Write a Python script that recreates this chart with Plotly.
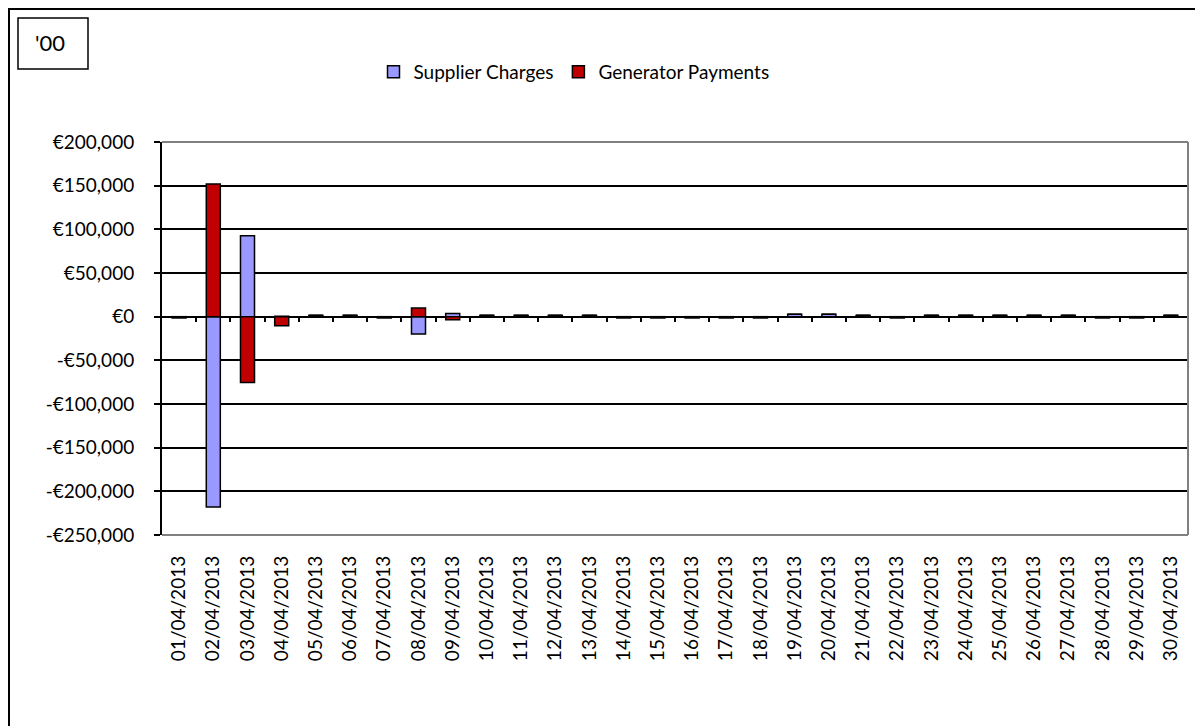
import plotly.graph_objects as go

dates = ["01/04/2013", "02/04/2013", "03/04/2013", "04/04/2013", "05/04/2013",
         "06/04/2013", "07/04/2013", "08/04/2013", "09/04/2013", "10/04/2013",
         "11/04/2013", "12/04/2013", "13/04/2013", "14/04/2013", "15/04/2013",
         "16/04/2013", "17/04/2013", "18/04/2013", "19/04/2013", "20/04/2013",
         "21/04/2013", "22/04/2013", "23/04/2013", "24/04/2013", "25/04/2013",
         "26/04/2013", "27/04/2013", "28/04/2013", "29/04/2013", "30/04/2013"]

supplier_charges = [-1500, -218000, 92700, 500, 1500, 1500, -1500, -19900, 3500, 1500,
                    1500, 1500, 1500, -1500, -1500, -1500, -1500, -1500, 2800, 2800,
                    1500, -1500, 1500, 1500, 1500, 1500, 1500, -1500, -1500, 1500]

generator_payments = [0, 152000, -75500, -10500, 0, 0, 0, 9800, -3500, 0,
                      0, 0, 0, 0, 0, 0, 0, 0, 0, 0,
                      0, 0, 0, 0, 0, 0, 0, 0, 0, 0]

y_ticks = [-250000, -200000, -150000, -100000, -50000, 0, 50000, 100000, 150000, 200000]
y_tick_text = ["-€250,000", "-€200,000", "-€150,000", "-€100,000", "-€50,000", "€0",
               "€50,000", "€100,000", "€150,000", "€200,000"]

boundary_ticks = [i + 0.5 for i in range(len(dates) - 1)]

FONT = "Lato, 'Liberation Sans', Arial, sans-serif"

# the page body adds an 8px offset; work in page pixels and convert
OFF = 8
W, H = 1203 - OFF, 726 - OFF
PL, PR, PT, PB = 162, 1188, 142, 535  # plot area in page pixels
L, R, T, B = PL - OFF, W - (PR - OFF), PT - OFF, H - (PB - OFF)
pw, ph = W - L - R, H - T - B

def px2x(px):
    return (px - OFF - L) / pw

def py2y(py):
    return (H - B - (py - OFF)) / ph

fig = go.Figure()
fig.add_trace(go.Bar(x=dates, y=supplier_charges, name="Supplier Charges",
                     marker=dict(color="#9999FF", line=dict(color="black", width=1.5))))
fig.add_trace(go.Bar(x=dates, y=generator_payments, name="Generator Payments",
                     marker=dict(color="#C00000", line=dict(color="black", width=1.5))))

gray = dict(color="#808080", width=2)
fig.update_layout(
    width=W, height=H,
    margin=dict(l=L, r=R, t=T, b=B, pad=0),
    paper_bgcolor="white", plot_bgcolor="white",
    barmode="relative", bargap=0.59,
    font=dict(family=FONT, size=19, color="black"),
    showlegend=True,
    legend=dict(orientation="h", x=px2x(574), xanchor="center", y=py2y(72), yanchor="middle",
                font=dict(size=19), bgcolor="rgba(0,0,0,0)", traceorder="normal"),
    xaxis=dict(type="category", categoryorder="array", categoryarray=dates,
               tickangle=-90, ticks="", showline=False, showgrid=False, zeroline=False,
               ticklabelstandoff=16, tickfont=dict(size=19), range=[-0.5, 29.5]),
    xaxis2=dict(overlaying="x", anchor="free", position=py2y(315.3), range=[-0.5, 29.5],
                tickvals=boundary_ticks, ticks="outside", ticklen=6, tickwidth=1.5,
                tickcolor="black", showticklabels=False, showgrid=False, zeroline=False,
                showline=False, side="bottom"),
    yaxis=dict(range=[-250000, 200000], tickvals=y_ticks, ticktext=y_tick_text,
               showgrid=True, gridcolor="black", gridwidth=1.5, zeroline=False,
               showline=True, linecolor="black", linewidth=2,
               ticks="outside", ticklen=6, tickwidth=1.5, tickcolor="black",
               ticklabelstandoff=16, tickfont=dict(size=19)),
    shapes=[
        dict(type="line", xref="paper", yref="paper", x0=0, x1=1, y0=1, y1=1, line=gray, layer="above"),
        dict(type="line", xref="paper", yref="paper", x0=0, x1=1, y0=0, y1=0, line=gray, layer="above"),
        dict(type="line", xref="paper", yref="paper", x0=1, x1=1, y0=0, y1=1, line=gray, layer="above"),
        dict(type="rect", xref="paper", yref="paper", x0=px2x(9), x1=px2x(1240),
             y0=py2y(760), y1=py2y(9), line=dict(color="black", width=2)),
        dict(type="rect", xref="paper", yref="paper", x0=px2x(18), x1=px2x(88),
             y0=py2y(69), y1=py2y(18), line=dict(color="black", width=1.5)),
    ],
    annotations=[
        dict(text="'00", xref="paper", yref="paper", x=px2x(50), y=py2y(43),
             xanchor="center", yanchor="middle", showarrow=False,
             font=dict(size=22, family=FONT)),
    ],
)

# invisible helper trace so the boundary-tick axis is rendered
fig.add_trace(go.Scatter(x=[0], y=[0], xaxis="x2", mode="markers",
                         marker=dict(opacity=0), showlegend=False, hoverinfo="skip"))

fig.write_html("out.html")
